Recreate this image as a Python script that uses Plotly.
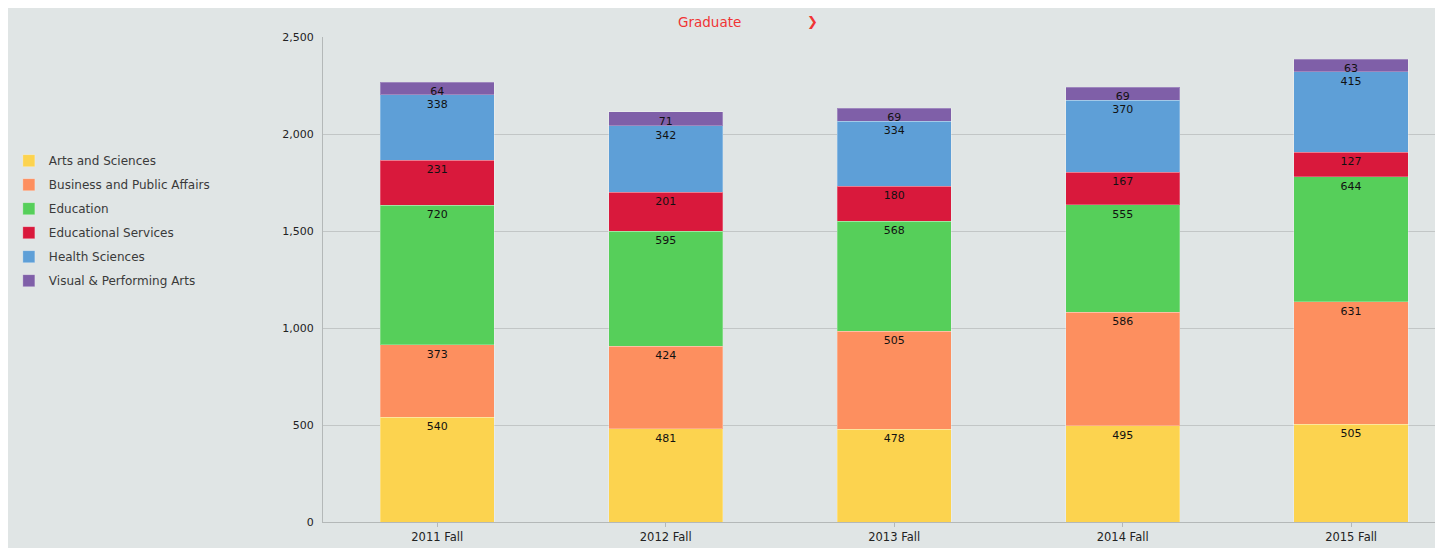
import plotly.graph_objects as go

terms = ['2011 Fall', '2012 Fall', '2013 Fall', '2014 Fall', '2015 Fall']

arts_sciences = [540, 481, 478, 495, 505]
business_public = [373, 424, 505, 586, 631]
education = [720, 595, 568, 555, 644]
educational_services = [231, 201, 180, 167, 127]
health_sciences = [338, 342, 334, 370, 415]
visual_performing = [64, 71, 69, 69, 63]

series = [
    ('Arts and Sciences', arts_sciences, '#fcd34f'),
    ('Business and Public Affairs', business_public, '#fd8f5f'),
    ('Education', education, '#56cf5a'),
    ('Educational Services', educational_services, '#d9193c'),
    ('Health Sciences', health_sciences, '#5e9fd7'),
    ('Visual & Performing Arts', visual_performing, '#7f5fa8'),
]

BG = '#e0e5e5'
FONT = 'DejaVu Sans, Verdana, sans-serif'

fig = go.Figure()
for i, (name, vals, col) in enumerate(series):
    fig.add_trace(go.Bar(
        x=terms, y=vals, name=name,
        marker=dict(color=col, line=dict(color='rgba(255,255,255,0.25)', width=1)),
        width=0.5,
        text=vals, textposition='inside', insidetextanchor='end',
        constraintext='none', textangle=0,
        textfont=dict(family=FONT, size=11, color='#111111'),
        legendgroup=str(i),
        hoverinfo='x+y+name',
    ))

# page is shown with an 8px body margin, so margins are shifted to compensate
fig.update_layout(
    width=1443, height=548,
    barmode='stack',
    paper_bgcolor=BG, plot_bgcolor=BG,
    margin=dict(l=315, r=14, t=29, b=34, autoexpand=False),
    font=dict(family=FONT, size=11, color='#333333'),
    showlegend=True,
    legend=dict(
        x=-0.282, xanchor='left', y=0.775, yanchor='top',
        traceorder='grouped', tracegroupgap=5,
        font=dict(family=FONT, size=12, color='#3a3a3a'),
        bgcolor='rgba(0,0,0,0)',
    ),
)

fig.update_xaxes(
    range=[-0.5, 4.376],
    showgrid=False, showline=True, linecolor='#b4b8b8', linewidth=1,
    ticks='outside', ticklen=4, tickcolor='#b4b8b8',
    tickfont=dict(family=FONT, size=11.5, color='#222222'),
)
fig.update_yaxes(
    range=[0, 2500], dtick=500, tickformat=',',
    showgrid=True, gridcolor='#c2c6c6', gridwidth=1,
    showline=True, linecolor='#b4b8b8', linewidth=1,
    zeroline=False, ticks='', ticklabelstandoff=6,
    tickfont=dict(family=FONT, size=11, color='#222222'),
)

fig.add_annotation(
    text='Graduate', xref='paper', yref='paper', x=0.3465, y=1, yshift=15,
    showarrow=False, xanchor='center', yanchor='middle',
    font=dict(family=FONT, size=13.5, color='#f03434'),
)
fig.add_annotation(
    text='❯', xref='paper', yref='paper', x=0.439, y=1, yshift=15,
    showarrow=False, xanchor='center', yanchor='middle',
    font=dict(family=FONT, size=13, color='#f03434'),
)

fig.write_html('out.html')
